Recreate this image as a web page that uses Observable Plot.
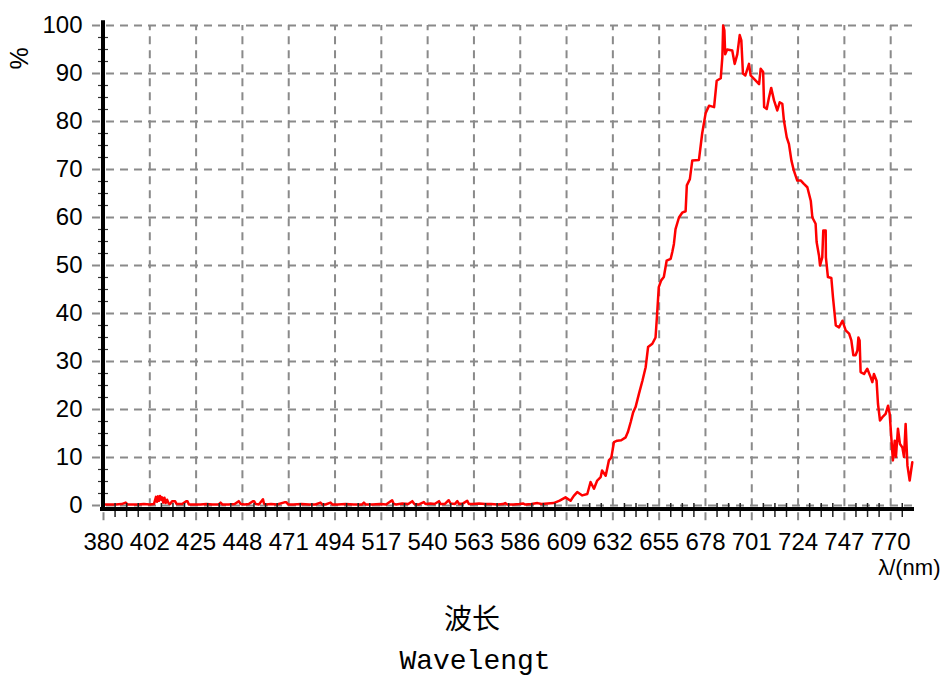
<!DOCTYPE html>
<html>
<head>
<meta charset="utf-8">
<script src="https://cdn.jsdelivr.net/npm/d3@7"></script>
<script src="https://cdn.jsdelivr.net/npm/@observablehq/plot@0.6"></script>
<style>
  html, body { margin: 0; padding: 0; background: #fff; }
  #chart svg { display: block; overflow: visible; }
  #cap1 { height: 54px; line-height: 54px; text-align: center; font-family: "Noto Sans CJK SC", sans-serif; font-size: 28px; color: #000; }
  #cap2 { height: 36px; line-height: 36px; text-align: center; font-family: "Liberation Mono", monospace; font-size: 28px; color: #000; padding-left: 6px; }
</style>
</head>
<body>
<div id="chart"></div>
<div id="cap1">波长</div>
<div id="cap2">Wavelengt</div>
<script>
// ---- data ----
const wavelength = [
  380,383,386,389,391,392,394,397,400,403,405,406,406.5,407,407.5,408,408.6,409,409.6,410.2,410.8,411.5,412.3,413,414,415.5,416.2,417,419,421,421.6,422.3,
  425,428,431,434,437,438,439,442,445,447,448,450,452,454,454.6,455.4,457,459,459.5,460.3,463,466,470,470.6,471.5,474,478,482,485,487.5,488.5,490,492.5,493.5,496,
  500,504,508,509,510,513,517,520,523,523.8,525,528,531,533,534,536,538.7,539.5,542,544,546.2,547,549,551,552,554,555.3,556.2,558,560.2,561,
  563,566,569,572,575,578,579,580,583,586,588,589,592,595,597,600,603,606,
  608.9,611.4,613,614.7,617.2,619.7,621.3,623,624.6,626.3,627,628.8,630.4,631.6,632.9,634.5,636.5,638.7,639.8,641.2,642.4,643.6,645.3,647,
  648.6,649.8,651.9,653.5,654.3,655.1,656.3,657.6,659,661,661.8,662.6,663.4,665.1,666.7,668.4,669,670.5,671.7,675,676.6,678.3,680,682.5,
  683.8,685.8,686.6,687,687.6,688,689,691.5,692.7,694,695.2,696,696.8,698,699.8,700.6,702.3,704.8,705.6,706.8,707.3,708.6,709.7,710.8,712.2,713.8,715,716.3,
  717.1,718.5,719.6,720.8,722,723.7,725.5,727,728.7,730.4,731.2,732.8,733.3,734.5,735,736.1,736.6,737.8,737.9,738.9,740.6,741.4,742.8,744.4,746.1,747.7,
  749.4,750.5,751.5,752.6,753.5,754,754.6,755.1,756.8,758.4,760.1,760.9,761.7,763,763.7,764.7,765.9,767.5,768.7,769.5,770.3,771.1,772,772.6,773.6,774.6,775.8,776.6,777.4,778.3,779.4,780.7
];
const percent = [
  0.2,0.2,0.2,0.3,0.6,0.2,0.2,0.2,0.3,0.2,0.3,1.8,0.8,1.9,1.0,2.0,1.2,1.7,0.6,1.6,0.5,1.2,0.4,0.3,0.9,0.9,0.3,0.3,0.3,0.9,0.9,0.2,
  0.2,0.2,0.3,0.2,0.2,0.6,0.2,0.2,0.3,0.9,0.3,0.2,0.3,0.9,0.9,0.3,0.2,1.3,0.4,0.2,0.3,0.2,0.7,0.7,0.2,0.2,0.3,0.2,0.2,0.6,0.2,0.2,0.6,0.2,0.2,
  0.3,0.2,0.2,0.6,0.2,0.2,0.3,0.2,1.1,0.3,0.2,0.4,0.3,0.9,0.3,0.2,0.7,0.3,0.4,0.3,0.9,0.3,0.3,1.1,0.4,0.3,0.9,0.3,0.4,1.0,0.3,
  0.3,0.4,0.3,0.3,0.2,0.3,0.5,0.2,0.2,0.3,0.4,0.2,0.3,0.5,0.3,0.4,0.5,1.0,
  1.7,1.0,2.0,2.8,2.1,2.4,4.9,3.5,5.2,5.9,7.3,6.2,9.4,10,13.2,13.5,13.6,14.2,15.3,17.4,19.4,20.5,23.3,26,
  28.8,33,33.7,35,40,45.5,46.9,47.6,51,51.4,52.8,54.5,57.6,60,61,61.3,66.7,68,71.9,72,77.5,81.7,83.3,83,
  88.5,89,93.4,100,99,94,95,94.8,92,94,98,96.9,90,89.6,92,89.6,88.9,87.8,91,90.3,83,82.6,85,87,84.4,82.3,84,83.7,
  80.2,76.7,75.3,71.9,69.8,67.7,67.7,67,66.3,63.5,60,58.7,54.9,52,50,51.7,57.3,57.3,51.7,47.6,47.4,43.4,37.5,37.1,38.5,36.5,
  35.8,34.4,31.3,31.3,32.3,35,34.4,27.8,27.4,28.5,26.7,25.7,27.4,26,21.2,17.7,18.4,19.1,20.8,19.1,14.2,9.4,13.5,10.1,16,12.8,12.1,10.1,17,8.3,5.2,9
];
const xTickLabels = ["380","402","425","448","471","494","517","540","563","586","609","632","655","678","701","724","747","770"];
const yTicks = [0,10,20,30,40,50,60,70,80,90,100];
const xTitle = "λ/(nm)";
const yTitle = "%";
const xMin = 380, xMax = 781.3;

// ---- derived ----
const spectrum = wavelength.map((w, i) => ({w, p: percent[i]}));
const step = (770 - 380) / (xTickLabels.length - 1);
const xTicks = xTickLabels.map((_, i) => 380 + i * step);
const xMinor = d3.range(0, 80).map(i => 380 + i * step / 4).filter((v, i) => i % 4 !== 0 && v <= xMax);
const yMinor = d3.range(0, 41).map(i => i * 2.5).filter(v => v % 10 !== 0);
const grid = {stroke: "#8a8a8a", strokeWidth: 2, strokeDasharray: "8,6"};
const pxPerNm = (913 - 103) / (xMax - xMin);

const chart = Plot.plot({
  width: 944,
  height: 590,
  marginLeft: 103,
  marginRight: 31,
  marginTop: 25,
  marginBottom: 85,
  style: {fontFamily: '"Liberation Sans", Arial, sans-serif', fontSize: "24px", color: "#000", background: "#fff", overflow: "visible"},
  x: {domain: [xMin, xMax], ticks: xTicks, tickFormat: d => xTickLabels[Math.round((d - 380) / step)], tickSize: 0, tickPadding: 27, label: null},
  y: {domain: [0, 100], ticks: yTicks, tickSize: 0, tickPadding: 21, label: null},
  marks: [
    Plot.ruleY(yTicks, {x1: xMin - 11 / pxPerNm, x2: xMax, ...grid}),
    Plot.ruleX(xTicks, {y1: -3.2, y2: 100, ...grid}),
    Plot.line(spectrum, {x: "w", y: "p", stroke: "#ff0000", strokeWidth: 2.5}),
    Plot.ruleX(xMinor, {y1: 0, y2: 0, insetTop: -2, insetBottom: -12, stroke: "#222", strokeWidth: 1.5}),
    Plot.ruleY(yMinor, {x1: xMin, x2: xMin, insetLeft: -5, insetRight: -5, stroke: "#333", strokeWidth: 1.2}),
    Plot.ruleY([0], {x1: xMin - 3 / pxPerNm, x2: xMax + 1 / pxPerNm, dy: 3.5, stroke: "#000", strokeWidth: 4}),
    Plot.ruleX([xMin], {y1: -1.2, y2: 101, dx: -0.5, stroke: "#000", strokeWidth: 4}),
    Plot.text([yTitle], {frameAnchor: "top-left", dx: -93, dy: 44, rotate: -90, fontSize: 25}),
    Plot.text([xTitle], {frameAnchor: "bottom-right", textAnchor: "end", dx: 27, dy: 69, fontSize: 22})
  ]
});
document.getElementById("chart").appendChild(chart);
</script>
</body>
</html>
